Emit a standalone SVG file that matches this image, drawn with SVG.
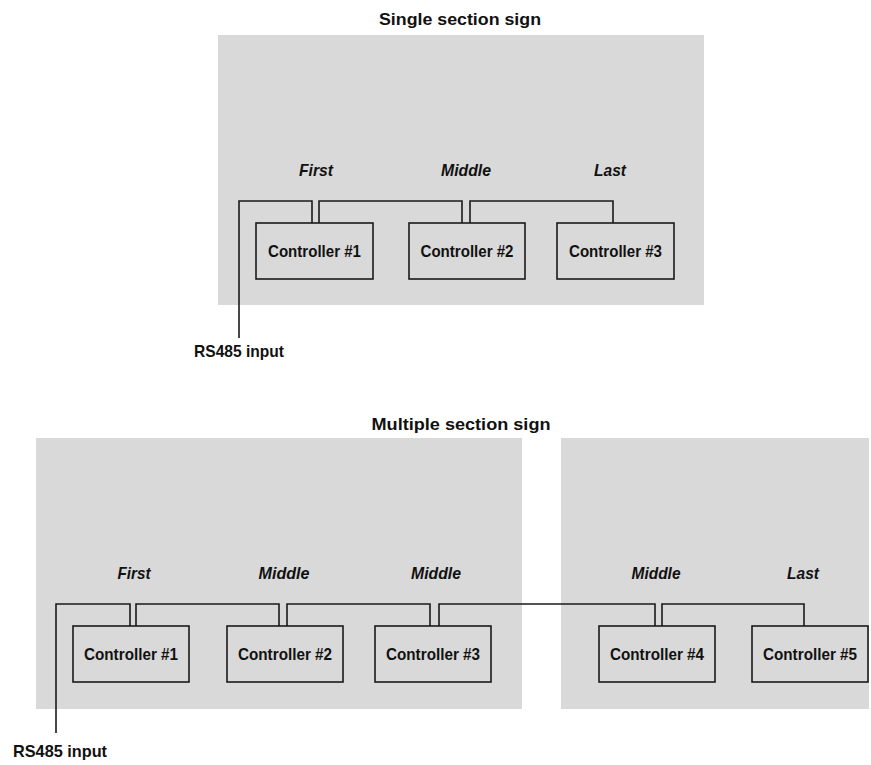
<svg xmlns="http://www.w3.org/2000/svg" width="871" height="765" viewBox="0 0 871 765">
  <style>
    .panel { fill: #d9d9d9; }
    .box { fill: none; stroke: #1a1a1a; stroke-width: 1.6; }
    .wire { fill: none; stroke: #1a1a1a; stroke-width: 1.6; }
    text { font-family: "Liberation Sans Narrow", "Liberation Sans", Arial, sans-serif; font-weight: bold; font-size: 17px; fill: #111; text-anchor: middle; }
    .role { font-style: italic; }
  </style>
  <rect width="871" height="765" fill="#ffffff"/>

  <!-- Single section sign -->
  <g id="single-sign">
    <text x="460" y="25" textLength="162" lengthAdjust="spacingAndGlyphs">Single section sign</text>
    <rect class="panel" x="218" y="35" width="486" height="270"/>
    <text class="role" x="316" y="176" textLength="34" lengthAdjust="spacingAndGlyphs">First</text>
    <text class="role" x="466" y="176" textLength="50" lengthAdjust="spacingAndGlyphs">Middle</text>
    <text class="role" x="610" y="176" textLength="32" lengthAdjust="spacingAndGlyphs">Last</text>
  </g>
  <g id="s-ctrl1">
    <rect class="box" x="256" y="223" width="117" height="56"/>
    <text x="314.5" y="257" textLength="93" lengthAdjust="spacingAndGlyphs">Controller #1</text>
  </g>
  <g id="s-ctrl2">
    <rect class="box" x="409" y="223" width="116" height="56"/>
    <text x="467" y="257" textLength="93" lengthAdjust="spacingAndGlyphs">Controller #2</text>
  </g>
  <g id="s-ctrl3">
    <rect class="box" x="557" y="223" width="117" height="56"/>
    <text x="615.5" y="257" textLength="93" lengthAdjust="spacingAndGlyphs">Controller #3</text>
  </g>
  <g id="s-input">
    <text x="239" y="357" textLength="90" lengthAdjust="spacingAndGlyphs">RS485 input</text>
  </g>

  <!-- Multiple section sign -->
  <g id="multi-sign">
    <text x="461" y="430" textLength="179" lengthAdjust="spacingAndGlyphs">Multiple section sign</text>
    <rect class="panel" x="36" y="438" width="486" height="271"/>
    <rect class="panel" x="561" y="438" width="308" height="271"/>
    <text class="role" x="134" y="579" textLength="33" lengthAdjust="spacingAndGlyphs">First</text>
    <text class="role" x="284" y="579" textLength="51" lengthAdjust="spacingAndGlyphs">Middle</text>
    <text class="role" x="436" y="579" textLength="50" lengthAdjust="spacingAndGlyphs">Middle</text>
    <text class="role" x="656" y="579" textLength="49" lengthAdjust="spacingAndGlyphs">Middle</text>
    <text class="role" x="803" y="579" textLength="32" lengthAdjust="spacingAndGlyphs">Last</text>
  </g>
  <g id="m-ctrl1">
    <rect class="box" x="73" y="626" width="116" height="56"/>
    <text x="131" y="660" textLength="94" lengthAdjust="spacingAndGlyphs">Controller #1</text>
  </g>
  <g id="m-ctrl2">
    <rect class="box" x="227" y="626" width="116" height="56"/>
    <text x="285" y="660" textLength="94" lengthAdjust="spacingAndGlyphs">Controller #2</text>
  </g>
  <g id="m-ctrl3">
    <rect class="box" x="375" y="626" width="116" height="56"/>
    <text x="433" y="660" textLength="94" lengthAdjust="spacingAndGlyphs">Controller #3</text>
  </g>
  <g id="m-ctrl4">
    <rect class="box" x="599" y="626" width="116" height="56"/>
    <text x="657" y="660" textLength="94" lengthAdjust="spacingAndGlyphs">Controller #4</text>
  </g>
  <g id="m-ctrl5">
    <rect class="box" x="752" y="626" width="116" height="56"/>
    <text x="810" y="660" textLength="94" lengthAdjust="spacingAndGlyphs">Controller #5</text>
  </g>
  <g id="m-input">
    <text x="60" y="757" textLength="94" lengthAdjust="spacingAndGlyphs">RS485 input</text>
  </g>

  <!-- RS485 daisy-chain wiring -->
  <g id="connectors">
    <path class="wire" d="M239,338 V201 H312 V223"/>
    <path class="wire" d="M319,223 V201 H462 V223"/>
    <path class="wire" d="M470,223 V201 H613 V223"/>
    <path class="wire" d="M56,733 V604 H130 V626"/>
    <path class="wire" d="M136,626 V604 H279 V626"/>
    <path class="wire" d="M287,626 V604 H430 V626"/>
    <path class="wire" d="M439,626 V604 H655 V626"/>
    <path class="wire" d="M662,626 V604 H804 V626"/>
  </g>
</svg>
